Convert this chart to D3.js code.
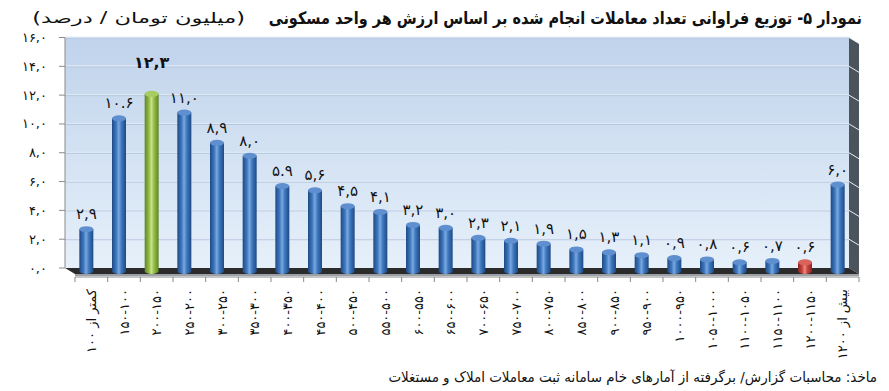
<!DOCTYPE html>
<html><head><meta charset="utf-8">
<script src="https://cdn.jsdelivr.net/npm/d3@7/dist/d3.min.js"></script>
<style>
html,body{margin:0;padding:0;background:#fff;}
svg{display:block;}
text{font-family:"DejaVu Sans",sans-serif;fill:#111;}
</style></head>
<body><svg id="chart" width="889" height="391"></svg>
<script>
const titleMain = "نمودار ۵- توزیع فراوانی تعداد معاملات انجام شده بر اساس ارزش هر واحد مسکونی";
const titleUnit = "(میلیون تومان / درصد)";
const sourceNote = "ماخذ: محاسبات گزارش/ برگرفته از آمارهای خام سامانه ثبت معاملات املاک و مستغلات";
const categories = ["کمتر از ۱۰۰","۱۰۰-۱۵۰","۱۵۰-۲۰۰","۲۰۰-۲۵۰","۲۵۰-۳۰۰","۳۰۰-۳۵۰","۳۵۰-۴۰۰","۴۰۰-۴۵۰","۴۵۰-۵۰۰","۵۰۰-۵۵۰","۵۵۰-۶۰۰","۶۰۰-۶۵۰","۶۵۰-۷۰۰","۷۰۰-۷۵۰","۷۵۰-۸۰۰","۸۰۰-۸۵۰","۸۵۰-۹۰۰","۹۰۰-۹۵۰","۹۵۰-۱۰۰۰","۱۰۰۰-۱۰۵۰","۱۰۵۰-۱۱۰۰","۱۱۰۰-۱۱۵۰","۱۱۵۰-۱۲۰۰","بیش از ۱۲۰۰"];
const values = [2.9,10.6,12.3,11.0,8.9,8.0,5.9,5.6,4.5,4.1,3.2,3.0,2.3,2.1,1.9,1.5,1.3,1.1,0.9,0.8,0.6,0.7,0.6,6.0];
const valueLabels = ["۲,۹","۱۰.۶","۱۲,۳","۱۱,۰","۸,۹","۸,۰","۵.۹","۵,۶","۴,۵","۴,۱","۳,۲","۳,۰","۲,۳","۲,۱","۱,۹","۱,۵","۱,۳","۱,۱","۰,۹","۰,۸","۰,۶","۰,۷","۰,۶","۶,۰"];
const yTicks = [0,2,4,6,8,10,12,14,16];
const yTickLabels = ["۰,۰","۲,۰","۴,۰","۶,۰","۸,۰","۱۰,۰","۱۲,۰","۱۴,۰","۱۶,۰"];
const maxIndex = 2, minIndex = 22;

const svg = d3.select("#chart");
const L = 65, R = 849, T = 37.5, B = 268, DX = 10, DY = 6;
const x = d3.scaleBand().domain(d3.range(categories.length)).range([L, R]);
const xf = d3.scaleBand().domain(d3.range(categories.length)).range([L + DX, R + DX]);
const y = d3.scaleLinear().domain([0, 16]).range([B, T]);

const defs = svg.append("defs");
const wallG = defs.append("linearGradient").attr("id","wall").attr("x1",0).attr("y1",0).attr("x2",0).attr("y2",1);
wallG.append("stop").attr("offset","0%").attr("stop-color","#c0d3eb");
wallG.append("stop").attr("offset","100%").attr("stop-color","#e6f0fa");
function cylGrad(id, dark, mid, light){
  const g = defs.append("linearGradient").attr("id",id).attr("x1",0).attr("y1",0).attr("x2",1).attr("y2",0);
  g.append("stop").attr("offset","0%").attr("stop-color",dark);
  g.append("stop").attr("offset","30%").attr("stop-color",mid);
  g.append("stop").attr("offset","48%").attr("stop-color",light);
  g.append("stop").attr("offset","68%").attr("stop-color",mid);
  g.append("stop").attr("offset","100%").attr("stop-color",dark);
}
cylGrad("blue","#1d4a84","#3e77bd","#78a8e0");
cylGrad("green","#5e8526","#92bb45","#c9e28a");
cylGrad("red","#8e2420","#c9443d","#ec8a82");
const caps = {blue:"#5f8fcf", green:"#a9cc62", red:"#d9625a"};

// back wall
svg.append("rect").attr("x",L).attr("y",T).attr("width",R-L).attr("height",B-T).attr("fill","url(#wall)");
// gridlines
const gl = yTicks.filter(t=>t>0);
svg.append("g").selectAll("line").data(gl).join("line")
  .attr("x1",L).attr("x2",R).attr("y1",d=>y(d)+0.5).attr("y2",d=>y(d)+0.5)
  .attr("stroke","#b3c5dc").attr("stroke-width",1);
svg.append("g").selectAll("line").data(gl).join("line")
  .attr("x1",L).attr("x2",R).attr("y1",d=>y(d)-0.5).attr("y2",d=>y(d)-0.5)
  .attr("stroke","#e2ebf7").attr("stroke-width",1);
// side wall
svg.append("path").attr("d",`M${R},${T}L${R+DX},${T+DY}L${R+DX},${B+DY}L${R},${B}Z`).attr("fill","#4b535c");
svg.append("g").selectAll("line").data(gl).join("line")
  .attr("x1",R).attr("x2",R+DX).attr("y1",d=>y(d)).attr("y2",d=>y(d)+DY)
  .attr("stroke","#e8eef5").attr("stroke-width",1);
// floor
svg.append("path").attr("d",`M${L},${B}L${R},${B}L${R+DX},${B+DY}L${L+DX},${B+DY}Z`).attr("fill","#2b2b2b");
svg.append("path").attr("d",`M${L+DX},${B+DY}L${R+DX},${B+DY}L${R+DX},${B+DY+2}L${L+DX},${B+DY+2}Z`).attr("fill","#9aa0a6");

// y axis
svg.append("line").attr("x1",L).attr("x2",L).attr("y1",T).attr("y2",B).attr("stroke","#8a8a8a");
svg.append("g").selectAll("line").data(yTicks).join("line")
  .attr("x1",L-6).attr("x2",L).attr("y1",d=>y(d)).attr("y2",d=>y(d)).attr("stroke","#8a8a8a");
svg.append("g").selectAll("text").data(yTicks).join("text")
  .attr("x",47).attr("y",d=>y(d)).attr("dy","0.35em").attr("text-anchor","end")
  .attr("font-size",13).attr("letter-spacing",0.5).text((d,i)=>yTickLabels[i]);

// x axis (front edge)
const ax = B + DY + 3;
svg.append("line").attr("x1",L+DX).attr("x2",R+DX).attr("y1",ax).attr("y2",ax).attr("stroke","#8a8a8a");
svg.append("g").selectAll("line").data(d3.range(categories.length+1)).join("line")
  .attr("x1",i=>L+DX+i*x.step()).attr("x2",i=>L+DX+i*x.step())
  .attr("y1",ax).attr("y2",ax+5).attr("stroke","#8a8a8a");

// bars (cylinders)
const bw = 14, rx = bw/2, ry = 3;
const cx = i => x(i) + x.bandwidth()/2 + DX/2;
const base = B + DY/2;
const kind = i => i===maxIndex ? "green" : (i===minIndex ? "red" : "blue");
const bars = svg.append("g").selectAll("g").data(values).join("g");
bars.append("path").attr("d",(v,i)=>{
  const x0 = cx(i)-rx, x1 = cx(i)+rx, top = y(v)+DY/2;
  return `M${x0},${top}L${x0},${base}A${rx},${ry} 0 0 0 ${x1},${base}L${x1},${top}Z`;
}).attr("fill",(v,i)=>`url(#${kind(i)})`);
bars.append("ellipse").attr("cx",(v,i)=>cx(i)).attr("cy",v=>y(v)+DY/2)
  .attr("rx",rx).attr("ry",ry).attr("fill",(v,i)=>caps[kind(i)]);

// value labels
svg.append("g").selectAll("text").data(values).join("text")
  .attr("x",(v,i)=>cx(i)).attr("y",(v,i)=> i===maxIndex ? y(v)-23 : y(v)-7)
  .attr("text-anchor","middle")
  .attr("font-size",(v,i)=> i===maxIndex ? 16 : 15)
  .attr("letter-spacing",(v,i)=> i===maxIndex ? 1 : 1.5)
  .attr("font-weight",(v,i)=> i===maxIndex ? "bold" : "normal")
  .attr("direction","ltr")
  .text((v,i)=>valueLabels[i]);

// category labels (rotated)
const visual = s => s.includes("-") ? s.split("-").reverse().join("-") : s;
svg.append("g").selectAll("text").data(categories).join("text")
  .attr("transform",(d,i)=>`translate(${xf(i)+xf.bandwidth()/2},289) rotate(-90)`)
  .attr("text-anchor","end").attr("dy","0.35em")
  .attr("font-size",13).text(d=>visual(d));

// texts fitted to a target width by horizontal scaling
function fitted(str, right, baseline, width, size, weight){
  const t = svg.append("text").attr("x",0).attr("y",0).attr("text-anchor","end")
    .attr("font-size",size).attr("font-weight",weight).text(str);
  const w = t.node().getComputedTextLength();
  t.attr("transform",`translate(${right},${baseline}) scale(${width/w},1)`);
  return t;
}
fitted(titleMain, 862, 24, 594, 17, "bold");
fitted(titleUnit, 245, 23, 213, 15, "normal");
fitted(sourceNote, 877, 382, 489, 14, "normal");
</script></body></html>
